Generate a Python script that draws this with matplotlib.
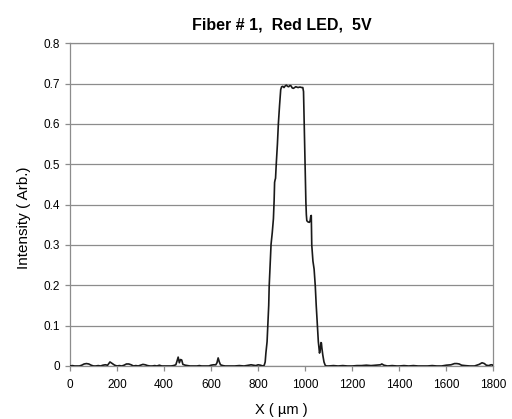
import matplotlib
matplotlib.use("Agg")
import matplotlib.pyplot as plt

plt.rcParams['font.family'] = ['Liberation Sans', 'DejaVu Sans']

# ---------- profile (position in um, intensity arb.) ----------
x_um = [0, 10, 20, 30, 40, 50, 60, 70, 80, 90, 100, 110, 120, 130, 140, 150,
        160, 170, 180, 190, 200, 210, 220, 230, 240, 250, 260, 270, 280, 290,
        300, 310, 320, 330, 340, 350, 360, 370, 380, 390, 400, 410, 420, 430,
        440, 450, 455, 460, 465, 470, 475, 480, 490, 500, 510, 520, 530, 540,
        550, 560, 570, 580, 590, 600, 610, 620, 625, 630, 635, 640, 650, 660,
        680, 700, 720, 740, 760, 770, 780, 790, 800, 810, 820, 826,
        830, 833, 838, 841, 845, 847, 851, 855, 860, 865, 868, 870, 872, 874,
        877, 882, 886, 891, 896, 900, 905, 910, 915, 920, 925, 930, 935, 940,
        945, 950, 955, 960, 965, 970, 975, 980, 985, 990, 993, 996, 1000, 1003,
        1005, 1007, 1012, 1018, 1021, 1024, 1026, 1028, 1033, 1038, 1043, 1047,
        1052, 1056, 1061, 1064, 1067, 1069, 1071, 1075, 1080, 1085, 1090,
        1100, 1120, 1140, 1160, 1180, 1200, 1220, 1240, 1260, 1280, 1300, 1320,
        1326, 1335, 1350, 1370, 1390, 1400, 1420, 1440, 1460, 1480, 1500, 1520,
        1540, 1560, 1580, 1600, 1620, 1635, 1645, 1655, 1665, 1680, 1700, 1720,
        1740, 1752, 1762, 1770, 1780, 1790, 1795, 1800]
intensity = [0.0, 0.001, 0.0, 0.0, 0.0, 0.002, 0.005, 0.006, 0.005, 0.002,
             0.0, 0.0, 0.001, 0.0, 0.002, 0.003, 0.002, 0.01, 0.006, 0.002,
             0.0, 0.001, 0.0, 0.002, 0.005, 0.005, 0.003, 0.0, 0.001, 0.0,
             0.002, 0.004, 0.003, 0.001, 0.0, 0.0, 0.001, 0.0, 0.002, 0.0,
             0.0, 0.0, 0.0, 0.0, 0.001, 0.003, 0.012, 0.022, 0.008, 0.016,
             0.015, 0.004, 0.002, 0.001, 0.0, 0.0, 0.0, 0.0, 0.001, 0.0,
             0.0, 0.0, 0.0, 0.002, 0.003, 0.003, 0.008, 0.02, 0.01, 0.003,
             0.001, 0.0, 0.0, 0.0, 0.001, 0.0, 0.002, 0.003, 0.002, 0.001,
             0.003, 0.002, 0.0, 0.002,
             0.01, 0.032, 0.06, 0.098, 0.15, 0.198, 0.25, 0.302, 0.33, 0.365,
             0.41, 0.455, 0.461, 0.465, 0.5, 0.55, 0.6, 0.645, 0.685, 0.692,
             0.693, 0.69, 0.694, 0.696, 0.693, 0.692, 0.695, 0.694, 0.689,
             0.688, 0.69, 0.692, 0.691, 0.69, 0.691, 0.691, 0.69, 0.69, 0.68,
             0.6, 0.5, 0.407, 0.375, 0.36, 0.357, 0.356, 0.36, 0.372, 0.373,
             0.3, 0.26, 0.24, 0.198, 0.15, 0.098, 0.06, 0.032, 0.04, 0.058,
             0.057, 0.045, 0.027, 0.01, 0.002, 0.0,
             0.0, 0.001, 0.0, 0.001, 0.0, 0.0, 0.001, 0.001, 0.002, 0.001,
             0.002, 0.003, 0.005, 0.002, 0.0, 0.001, 0.0, 0.0, 0.001, 0.0,
             0.001, 0.0, 0.0, 0.0, 0.001, 0.0, 0.0, 0.002, 0.003, 0.006,
             0.006, 0.005, 0.002, 0.001, 0.0, 0.0, 0.004, 0.008, 0.006, 0.002,
             0.001, 0.003, 0.003, 0.0]

x_ticks = [0, 200, 400, 600, 800, 1000, 1200, 1400, 1600, 1800]
y_ticks = [0, 0.1, 0.2, 0.3, 0.4, 0.5, 0.6, 0.7, 0.8]
y_labels = ['0', '0.1', '0.2', '0.3', '0.4', '0.5', '0.6', '0.7', '0.8']

fig = plt.figure(figsize=(5.12, 4.19), dpi=100)
ax = fig.add_axes([0.1367, 0.1265, 0.8268, 0.7705])

ax.plot(x_um, intensity, color='#1a1a1a', linewidth=1.2, zorder=3)

ax.set_xlim(0, 1800)
ax.set_ylim(0, 0.8)
ax.set_xticks(x_ticks)
ax.set_yticks(y_ticks)
ax.set_yticklabels(y_labels)
ax.yaxis.grid(True, color='#8c8c8c', linewidth=0.9)
ax.set_axisbelow(True)

for sp in ax.spines.values():
    sp.set_color('#8c8c8c')
    sp.set_linewidth(0.9)
ax.tick_params(axis='both', direction='out', length=3.5, width=0.9,
               color='#8c8c8c', labelsize=8.5, labelcolor='black')
ax.tick_params(axis='x', pad=6)

ax.set_title('Fiber # 1,  Red LED,  5V', fontsize=11.5, fontweight='bold', pad=10)
ax.set_xlabel('X ( µm )', fontsize=10.5)
ax.set_ylabel('Intensity ( Arb.)', fontsize=11)
ax.xaxis.set_label_coords(0.5, -0.115)
ax.yaxis.set_label_coords(-0.093, 0.46)

fig.savefig('out.png', dpi=100, facecolor='white')
plt.close(fig)
